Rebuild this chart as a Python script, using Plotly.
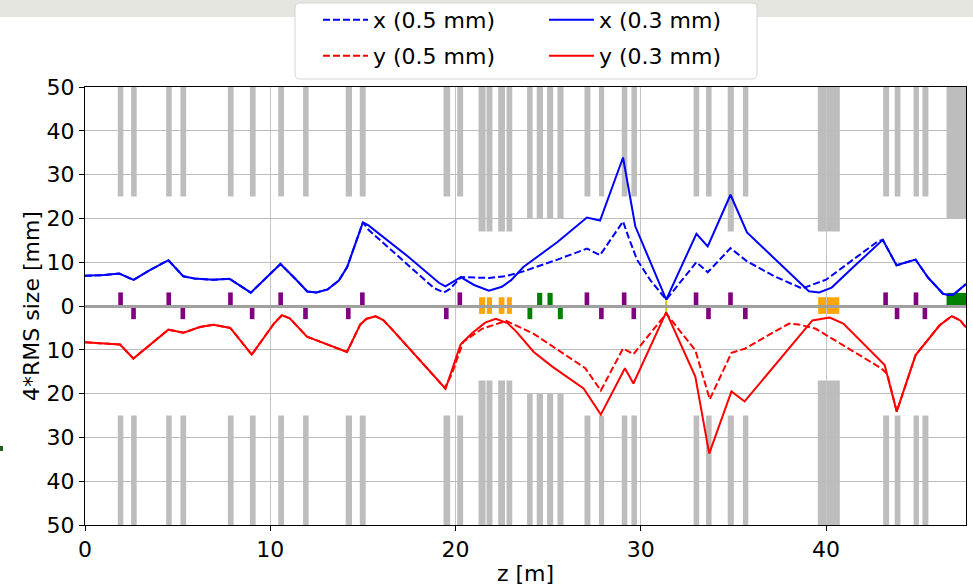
import plotly.graph_objects as go

# ---------------- data ----------------
# x envelope, 0.3 mm (solid blue)
x03_z = [0, 1.0, 1.85, 2.62, 3.5, 4.5, 5.3, 5.9, 6.9, 7.8, 8.95, 9.8, 10.55, 11.4, 12.0, 12.5, 13.1, 13.7, 14.15,
         15.0, 15.3, 17.4, 19.1, 19.45, 20.28, 21.0, 21.8, 22.5, 23.0, 23.66, 25.5, 27.09, 27.8, 29.04, 29.7, 31.37,
         33.0, 33.61, 34.84, 35.73, 37.5, 39.07, 39.63, 40.3, 41.5, 43.06, 43.8, 44.83, 45.5, 46.31, 46.6, 46.87, 47.55]
x03_v = [6.9, 7.05, 7.4, 5.95, 8.2, 10.45, 6.8, 6.3, 6.0, 6.2, 3.05, 6.5, 9.6, 6.0, 3.3, 3.1, 3.8, 5.8, 8.9,
         19.1, 18.4, 11.4, 5.3, 4.5, 6.6, 4.8, 3.5, 4.4, 5.9, 8.9, 14.6, 20.2, 19.5, 33.9, 18.2, 1.45,
         16.5, 13.6, 25.4, 16.8, 9.7, 3.35, 3.1, 4.2, 9.0, 15.1, 9.3, 10.6, 6.5, 2.8, 2.5, 2.6, 5.0]

# x envelope, 0.5 mm (dashed blue)
x05_z = [0, 1.0, 1.85, 2.62, 3.5, 4.5, 5.3, 5.9, 6.9, 7.8, 8.95, 9.8, 10.55, 11.4, 12.0, 12.5, 13.1, 13.7, 14.15,
         15.0, 15.3, 17.0, 18.83, 19.37, 19.7, 20.3, 21.0, 21.8, 22.7, 23.66, 25.5, 27.09, 27.8, 28.5, 29.04, 29.32,
         29.79, 30.53, 31.37, 33.0, 33.61, 34.84, 35.73, 37.2, 38.7, 40.0, 42.8, 43.06, 43.8, 44.83, 45.5, 46.31,
         46.6, 46.87, 47.55]
x05_v = [6.9, 7.05, 7.4, 5.95, 8.2, 10.45, 6.8, 6.3, 6.0, 6.2, 3.05, 6.5, 9.6, 6.0, 3.3, 3.1, 3.8, 5.8, 8.9,
         19.1, 17.4, 11.0, 4.1, 3.1, 3.9, 6.6, 6.5, 6.4, 6.8, 7.9, 10.6, 13.1, 11.6, 15.8, 19.3, 15.9,
         10.6, 5.8, 1.45, 10.0, 7.7, 13.2, 10.2, 6.8, 4.0, 6.0, 14.8, 15.1, 9.3, 10.6, 6.5, 2.8,
         2.5, 2.6, 5.0]

# y envelope, 0.3 mm (solid red, drawn below the axis)
y03_z = [0, 1.0, 1.89, 2.61, 3.5, 4.5, 5.32, 6.2, 6.94, 7.84, 9.0, 10.2, 10.63, 11.05, 11.98, 14.14, 14.86, 15.2,
         15.68, 16.1, 16.67, 19.46, 20.27, 20.87, 21.6, 22.17, 22.8, 23.29, 24.22, 25.24, 26.91, 27.84, 29.14, 29.6,
         31.37, 32.94, 33.69, 34.89, 35.6, 39.26, 40.19, 40.93, 43.16, 43.81, 44.83, 46.13, 46.78, 47.24, 47.55]
y03_v = [-8.3, -8.5, -8.8, -12.0, -8.8, -5.4, -6.1, -4.8, -4.3, -5.0, -11.1, -4.0, -2.1, -2.8, -7.0, -10.5, -4.2, -2.9,
         -2.35, -3.2, -5.8, -18.9, -8.8, -6.3, -3.8, -2.9, -3.9, -5.9, -10.5, -13.9, -18.8, -24.8, -14.2, -17.7,
         -1.4, -16.1, -33.7, -19.5, -21.8, -3.3, -2.65, -4.0, -13.5, -24.1, -11.2, -4.4, -2.3, -3.3, -4.9]

# y envelope, 0.5 mm (dashed red)
y05_z = [0, 1.0, 1.89, 2.61, 3.5, 4.5, 5.32, 6.2, 6.94, 7.84, 9.0, 10.2, 10.63, 11.05, 11.98, 14.14, 14.86, 15.2,
         15.68, 16.1, 16.67, 18.64, 19.42, 19.8, 20.41, 21.43, 22.73, 24.2, 25.52, 27.0, 27.84, 29.04, 29.6, 31.37,
         32.94, 33.72, 34.89, 35.64, 37.2, 38.0, 38.51, 39.44, 42.97, 43.3, 43.81, 44.83, 46.13, 46.78, 47.24, 47.55]
y05_v = [-8.3, -8.5, -8.8, -12.0, -8.8, -5.4, -6.1, -4.8, -4.3, -5.0, -11.1, -4.0, -2.1, -2.8, -7.0, -10.5, -4.2, -2.9,
         -2.35, -3.2, -5.8, -15.0, -18.7, -15.5, -8.2, -5.2, -3.4, -6.3, -10.1, -14.2, -19.3, -9.7, -11.0, -1.75,
         -10.1, -21.3, -10.7, -9.7, -5.9, -4.0, -4.2, -5.2, -14.2, -15.5, -24.1, -11.2, -4.4, -2.3, -3.3, -4.9]

# apertures (grey): start, end, upper inner edge, lower inner edge (None = no lower block)
ap_z0 = [1.77, 2.49, 4.38, 5.15, 7.71, 8.90, 10.43, 11.77, 14.07, 14.83, 19.35, 20.09, 21.24, 21.67, 22.30, 22.75,
         23.86, 24.38, 24.94, 25.50, 26.96, 27.74, 28.97, 29.49, 32.85, 33.52, 34.69, 35.51, 39.55, 43.08, 43.70,
         44.72, 45.20, 46.50]
ap_z1 = [2.07, 2.79, 4.68, 5.46, 8.02, 9.21, 10.74, 12.07, 14.41, 15.15, 19.71, 20.41, 21.62, 21.99, 22.67, 23.06,
         24.16, 24.72, 25.27, 25.83, 27.28, 28.02, 29.27, 29.79, 33.15, 33.82, 35.02, 35.80, 40.74, 43.40, 44.01,
         45.01, 45.52, 47.60]
ap_up = [25, 25, 25, 25, 25, 25, 25, 25, 25, 25, 25, 25, 17, 17, 17, 17,
         20, 20, 20, 20, 25, 25, 25, 25, 25, 25, 17, 25, 17, 25, 25,
         25, 25, 20]
ap_dn = [25, 25, 25, 25, 25, 25, 25, 25, 25, 25, 25, 25, 17, 17, 17, 17,
         20, 20, 20, 20, 25, 25, 25, 25, 25, 25, 25, 25, 17, 25, 25,
         25, 25, None]

# quadrupoles (purple), focusing above / defocusing below
quad_up_z = [1.92, 4.52, 7.85, 10.56, 14.97, 20.23, 27.09, 29.10, 32.98, 34.84, 43.21, 44.85]
quad_dn_z = [2.62, 5.28, 9.02, 11.90, 14.21, 19.50, 27.87, 29.62, 33.65, 35.64, 43.83, 45.33]

# solenoids / cavities (orange)
sol_z0 = [21.27, 21.69, 22.33, 22.77, 39.57]
sol_z1 = [21.60, 21.97, 22.64, 23.04, 40.71]

# correctors (green)
cor_up_z0 = [24.40, 24.96, 46.50]
cor_up_z1 = [24.68, 25.24, 47.60]
cor_dn_z0 = [23.88, 25.52]
cor_dn_z1 = [24.14, 25.79]

# marker (yellow)
mark_z = [31.37]

y_ticks = [-50, -40, -30, -20, -10, 0, 10, 20, 30, 40, 50]
y_ticktext = [str(abs(t)) for t in y_ticks]
x_ticks = [0, 10, 20, 30, 40]

# ---------------- figure ----------------
FONT = "DejaVu Sans"
fig = go.Figure()

BLUE = "#0000ff"
RED = "#ff0000"
DASH = "7px,3px"

fig.add_trace(go.Scatter(x=x05_z, y=x05_v, mode="lines", name="x (0.5 mm)",
                         line=dict(color=BLUE, width=2, dash=DASH), legend="legend"))
fig.add_trace(go.Scatter(x=x03_z, y=x03_v, mode="lines", name="x (0.3 mm)",
                         line=dict(color=BLUE, width=2), legend="legend"))
fig.add_trace(go.Scatter(x=y05_z, y=y05_v, mode="lines", name="y (0.5 mm)",
                         line=dict(color=RED, width=2, dash=DASH), legend="legend2"))
fig.add_trace(go.Scatter(x=y03_z, y=y03_v, mode="lines", name="y (0.3 mm)",
                         line=dict(color=RED, width=2), legend="legend2"))

shapes = []
GREY = "#bdbdbd"
for z0, z1, up, dn in zip(ap_z0, ap_z1, ap_up, ap_dn):
    shapes.append(dict(type="rect", xref="x", yref="y", x0=z0, x1=z1, y0=up, y1=50,
                       fillcolor=GREY, line=dict(width=0), layer="below"))
    if dn is not None:
        shapes.append(dict(type="rect", xref="x", yref="y", x0=z0, x1=z1, y0=-50, y1=-dn,
                           fillcolor=GREY, line=dict(width=0), layer="below"))

QW = 0.25
for z in quad_up_z:
    shapes.append(dict(type="rect", xref="x", yref="y", x0=z - QW / 2, x1=z + QW / 2, y0=0, y1=3.1,
                       fillcolor="#800080", line=dict(width=0), layer="below"))
for z in quad_dn_z:
    shapes.append(dict(type="rect", xref="x", yref="y", x0=z - QW / 2, x1=z + QW / 2, y0=-3.0, y1=-0.3,
                       fillcolor="#800080", line=dict(width=0), layer="below"))
for z0, z1 in zip(sol_z0, sol_z1):
    shapes.append(dict(type="rect", xref="x", yref="y", x0=z0, x1=z1, y0=-1.8, y1=2.0,
                       fillcolor="#ffa500", line=dict(width=0), layer="below"))
for z0, z1 in zip(cor_up_z0, cor_up_z1):
    shapes.append(dict(type="rect", xref="x", yref="y", x0=z0, x1=z1, y0=0, y1=3.0,
                       fillcolor="#008000", line=dict(width=0), layer="below"))
for z0, z1 in zip(cor_dn_z0, cor_dn_z1):
    shapes.append(dict(type="rect", xref="x", yref="y", x0=z0, x1=z1, y0=-3.0, y1=-0.3,
                       fillcolor="#008000", line=dict(width=0), layer="below"))
for z in mark_z:
    shapes.append(dict(type="line", xref="x", yref="y", x0=z, x1=z, y0=-1.3, y1=1.3,
                       line=dict(color="#c8c800", width=2), layer="below"))

# page decorations: grey band on top, legend frame, small green fragment at left
W, H = 973, 586
ML, MR, MT, MB = 85, 7, 87, 61
PW, PH = W - ML - MR, H - MT - MB


def px(xp):
    return (xp - ML) / PW


def py(yp):
    return (H - MB - yp) / PH


shapes.append(dict(type="rect", xref="paper", yref="paper", x0=px(0), x1=px(W), y0=py(17), y1=py(0),
                   fillcolor="#e6e6e1", line=dict(width=0), layer="above"))
# rounded legend frame
lx0, lx1, ly0, ly1, r = 295, 757, 3, 79, 5
path = (f"M {px(lx0 + r)},{py(ly0)} L {px(lx1 - r)},{py(ly0)} Q {px(lx1)},{py(ly0)} {px(lx1)},{py(ly0 + r)} "
        f"L {px(lx1)},{py(ly1 - r)} Q {px(lx1)},{py(ly1)} {px(lx1 - r)},{py(ly1)} "
        f"L {px(lx0 + r)},{py(ly1)} Q {px(lx0)},{py(ly1)} {px(lx0)},{py(ly1 - r)} "
        f"L {px(lx0)},{py(ly0 + r)} Q {px(lx0)},{py(ly0)} {px(lx0 + r)},{py(ly0)} Z")
shapes.append(dict(type="path", xref="paper", yref="paper", path=path, fillcolor="white",
                   line=dict(color="#d4d4d4", width=1), layer="above"))
shapes.append(dict(type="rect", xref="paper", yref="paper", x0=px(0), x1=px(3), y0=py(451), y1=py(446),
                   fillcolor="#1f5f1f", line=dict(width=0), layer="above"))

legend_common = dict(orientation="h", xanchor="left", yanchor="middle", xref="container", yref="container",
                     bgcolor="rgba(0,0,0,0)", borderwidth=0, entrywidth=166, entrywidthmode="pixels",
                     font=dict(family=FONT, size=22, color="black"), itemwidth=45)

fig.update_layout(
    width=W, height=H,
    margin=dict(l=ML, r=MR, t=MT, b=MB, pad=0, autoexpand=False),
    paper_bgcolor="white", plot_bgcolor="white",
    font=dict(family=FONT, size=22, color="black"),
    shapes=shapes,
    legend=dict(x=318 / W, y=1 - 20 / H, **legend_common),
    legend2=dict(x=318 / W, y=1 - 56 / H, **legend_common),
    showlegend=True,
)

fig.update_xaxes(range=[0, 47.55], tickvals=x_ticks, showgrid=True, gridcolor="#c4c4c4", gridwidth=1,
                 showline=True, linecolor="black", linewidth=1, mirror=True,
                 ticks="outside", ticklen=5, tickcolor="black", zeroline=False,
                 title=dict(text="z [m]", font=dict(family=FONT, size=22), standoff=4),
                 tickfont=dict(family=FONT, size=22))
fig.update_yaxes(range=[-50, 50], tickvals=y_ticks, ticktext=y_ticktext, showgrid=True,
                 gridcolor="#bcbcbc", gridwidth=1,
                 showline=True, linecolor="black", linewidth=1, mirror=True,
                 ticks="outside", ticklen=5, tickcolor="black",
                 zeroline=True, zerolinecolor="#a0a0a0", zerolinewidth=2.5,
                 title=dict(text="4*RMS size [mm]", font=dict(family=FONT, size=22), standoff=0),
                 tickfont=dict(family=FONT, size=22))

fig.write_html("out.html", config={"displayModeBar": False},
               post_script="document.body.style.margin='0px';")
